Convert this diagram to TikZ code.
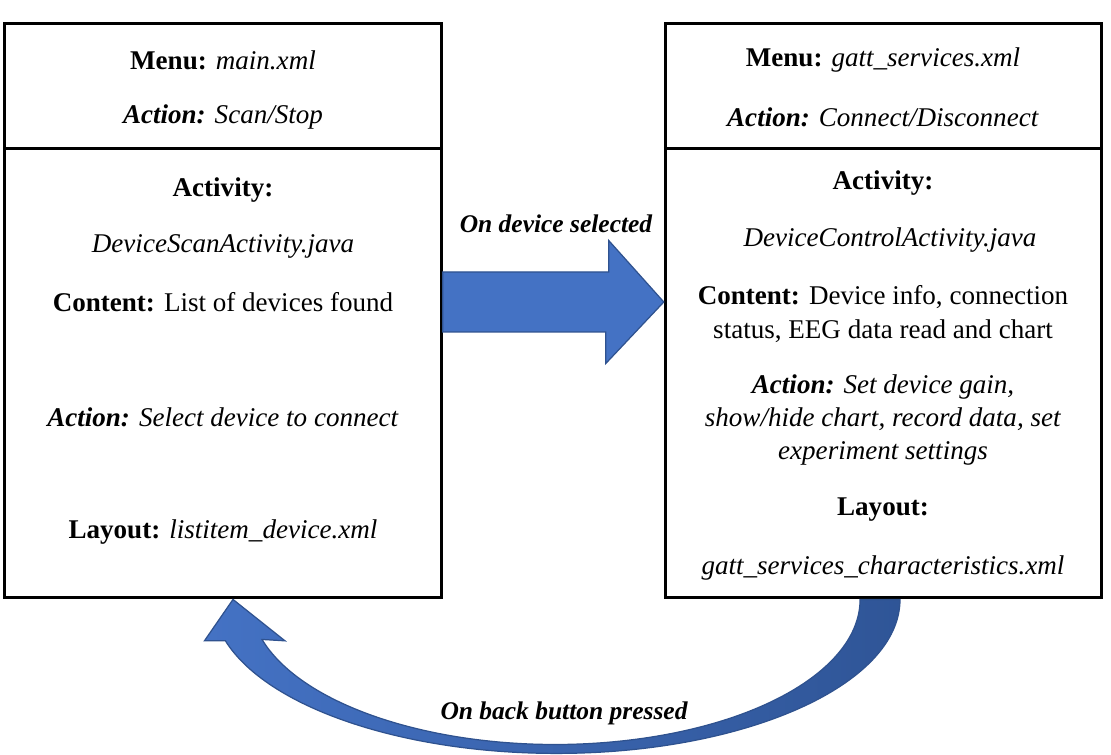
\documentclass[tikz,border=0pt]{standalone}
\usepackage{fontspec}
\setmainfont{Liberation Serif}
\usepackage{xcolor}
\usepackage{tikz}
\usetikzlibrary{calc}
\definecolor{arrowblue}{HTML}{4472C4}
\definecolor{arrowedge}{HTML}{2F528F}
\definecolor{arrowdark}{HTML}{2F5597}
\tikzset{
  screen/.style={draw, line width=1.7pt, minimum width=8.73cm, minimum height=11.5cm},
  txt/.style={font=\fontsize{15.4}{19}\selectfont, align=center},
  lbl/.style={font=\fontsize{14.5}{17}\selectfont\bfseries\itshape},
  blockarrow/.style={draw=arrowedge, line width=0.7pt, fill=arrowblue},
  curvearrow/.style={draw=arrowedge, line width=0.7pt, left color=arrowblue, right color=arrowdark}
}

\begin{document}
\begin{tikzpicture}[x=0.02cm, y=0.02cm]
\useasboundingbox (0,0) rectangle (1111,754);
% the two screens
\node[screen] (scan) at (223,443.5) {};
\node[screen] (control) at (883.5,443.5) {};
\draw[line width=1.7pt] ($(scan.north west)+(0,-127)$) -- ($(scan.north east)+(0,-127)$);
\draw[line width=1.7pt] ($(control.north west)+(0,-127)$) -- ($(control.north east)+(0,-127)$);

% scan screen
\node[txt] (scanMenu) at (223,694) {\textbf{Menu:} \textit{main.xml}};
\node[txt] (scanAct) at (223,637) {\textbf{\textit{Action:}} \textit{Scan/Stop}};
\node[txt] (scanActy) at (223,564) {\textbf{Activity:}};
\node[txt] (scanJava) at (223,508) {\textit{DeviceScanActivity.java}};
\node[txt] (scanCont) at (223,452) {\textbf{Content:} List of devices found};
\node[txt] (scanSel) at (223,337) {\textbf{\textit{Action:}} \textit{Select device to connect}};
\node[txt] (scanLay) at (223,222) {\textbf{Layout:} \textit{listitem\_device.xml}};

% control screen
\node[txt] (ctrlMenu) at (883,694) {\textbf{Menu:} \textit{gatt\_services.xml}};
\node[txt] (ctrlAct) at (883,637) {\textbf{\textit{Action:}} \textit{Connect/Disconnect}};
\node[txt] (ctrlActy) at (883,571) {\textbf{Activity:}};
\node[txt] (ctrlJava) at (890,514) {\textit{DeviceControlActivity.java}};
\node[txt] (ctrlCont) at (883,440) {\textbf{Content:} Device info, connection\\status, EEG data read and chart};
\node[txt] (ctrlSet) at (883,334) {\textbf{\textit{Action:}} \textit{Set device gain,}\\\textit{show/hide chart, record data, set}\\\textit{experiment settings}};
\node[txt] (ctrlLay) at (883,244) {\textbf{Layout:}};
\node[txt] (ctrlXml) at (883,186) {\textit{gatt\_services\_characteristics.xml}};

% forward arrow
\coordinate (fromA) at ($(scan.east)+(0,8.5)$);
\coordinate (toA) at ($(control.west)+(0,8.5)$);
\draw[blockarrow] ($(fromA)+(0,30)$) -- ++(166,0) -- ++(0,31.5) -- (toA)
  -- ++(-58,-61.5) -- ++(0,31.5) -- ($(fromA)+(0,-30)$) -- cycle;
\node[lbl] (selLbl) at (556,530) {On device selected};

% back arrow
\draw[curvearrow] ($(control.south)+(16.5,0)$)
  arc[start angle=0, end angle=-164.4, x radius=6.874cm, y radius=3.08cm]
  -- ++(-21,0) -- ($(scan.south)+(10,0)$) -- ++(52,-41.4) -- ++(-23,1.4)
  arc[start angle=-164, end angle=0, x radius=6.1cm, y radius=2.9cm] -- cycle;
\node[lbl] (backLbl) at (564,41) {On back button pressed};
\end{tikzpicture}
\end{document}
